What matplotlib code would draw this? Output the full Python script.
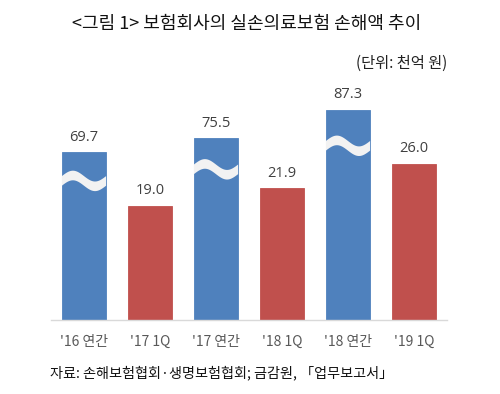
import numpy as np
import matplotlib.pyplot as plt

plt.rcParams['font.family'] = ['Noto Sans CJK KR', 'DejaVu Sans']

categories = ["'16 연간", "'17 1Q", "'17 연간", "'18 1Q", "'18 연간", "'19 1Q"]
values = [69.7, 19.0, 75.5, 21.9, 87.3, 26.0]
is_annual = [True, False, True, False, True, False]

# annual bars are drawn on a compressed (broken) scale
BREAK_SCALE = 0.4
BLUE = "#4f81bd"
RED = "#c0504d"


def draw_wave(ax, xc, width, yc):
    t = np.linspace(0, 1, 60)
    xs = xc - width / 2 + t * width
    amp = 0.9
    thick = 1.6
    mid = yc + amp * np.sin(2 * np.pi * t)
    top = mid + thick / 2
    bot = mid - thick / 2
    ax.fill(np.concatenate([xs, xs[::-1]]), np.concatenate([top, bot[::-1]]),
            color="#f2f2f2", lw=0, zorder=3)


fig = plt.figure(figsize=(5, 3.94), dpi=100)
ax = fig.add_axes([0.102, 0.188, 0.792, 0.584])

x = np.arange(len(categories))
width = 0.67
heights = [v * BREAK_SCALE if a else v for v, a in zip(values, is_annual)]
colors = [BLUE if a else RED for a in is_annual]
ax.bar(x, heights, width=width, color=colors, edgecolor=colors, lw=0.6, zorder=2)

for xi, h, v, a in zip(x, heights, values, is_annual):
    ax.text(xi, h + 1.3, f"{v:.1f}", ha="center", va="bottom",
            fontsize=10.5, color="#404040", family=["Open Sans", "DejaVu Sans"])
    if a:
        draw_wave(ax, xi, width, h * 0.83)

ax.set_xlim(-0.5, len(categories) - 0.5)
ax.set_ylim(0, 38.3)
ax.set_yticks([])
ax.set_xticks(x)
ax.set_xticklabels(categories, fontsize=10, color="#595959")
ax.tick_params(axis="x", length=0, pad=11)
for s in ["top", "right", "left"]:
    ax.spines[s].set_visible(False)
ax.spines["bottom"].set_color("#d9d9d9")
ax.spines["bottom"].set_linewidth(1)

fig.text(0.494, 0.94, "<그림 1> 보험회사의 실손의료보험 손해액 추이",
         ha="center", va="center", fontsize=13, color="#111111")
fig.text(0.894, 0.838, "(단위: 천억 원)", ha="right", va="center",
         fontsize=11, color="#222222")
fig.text(0.1, 0.053, "자료: 손해보험협회·생명보험협회; 금감원, 「업무보고서」",
         ha="left", va="center", fontsize=10.2, color="#111111")

fig.savefig("out.png", dpi=100)
